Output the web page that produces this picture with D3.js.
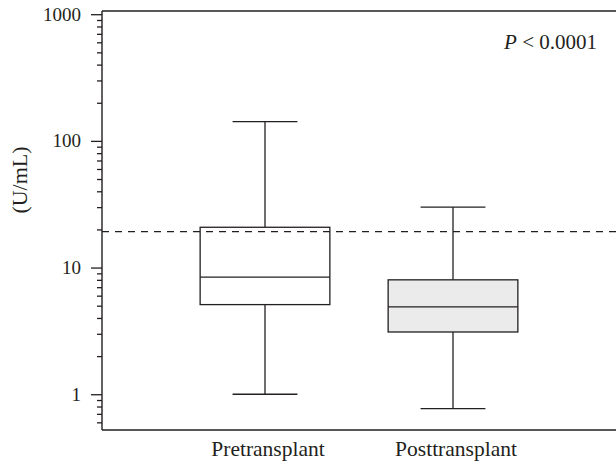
<!DOCTYPE html>
<html>
<head>
<meta charset="utf-8">
<script src="https://cdn.jsdelivr.net/npm/d3@7"></script>
<style>
  html, body { margin: 0; padding: 0; background: #fff; }
  svg { display: block; }
</style>
</head>
<body>
<svg id="chart" width="616" height="463"></svg>
<script>
// ---- data ----
const categories = ["Pretransplant", "Posttransplant"];
const whiskerLow  = [1.0, 0.77];
const q1          = [5.1, 3.1];
const median      = [8.4, 4.9];
const q3          = [20.8, 8.0];
const whiskerHigh = [142, 30];
const cutoff = 19.2;
const majorTicks = [1, 10, 100, 1000];
const boxFills = ["#ffffff", "#ebebeb"];
const yLabel = "(U/mL)";
const pLabel = "0.0001";

(function () {
// ---- layout ----
const mLeft = 102, mRight = 616, mTop = 11, mBottom = 430;
const ink = "#231f20";
const serif = "'Liberation Serif', 'DejaVu Serif', serif";

const svg = d3.select("#chart");

const y = d3.scaleLog().domain([0.522, 1060]).range([mBottom, mTop]);
const x = d3.scalePoint().domain(categories).range([mLeft, mRight]).padding(0.867);
const step = x.step();
const boxW = step * 0.69;
const capW = boxW * 0.5;

// minor ticks 2..9 per decade
const minorTicks = [];
for (let e = -1; e <= 2; e++) {
  for (let m = 2; m <= 9; m++) {
    const v = m * Math.pow(10, e);
    if (v >= y.domain()[0] && v <= y.domain()[1]) minorTicks.push(v);
  }
}

// frame lines (top and bottom)
svg.append("line").attr("x1", mLeft).attr("x2", mRight).attr("y1", mTop).attr("y2", mTop)
  .attr("stroke", ink).attr("stroke-width", 1.4);
svg.append("line").attr("x1", mLeft).attr("x2", mRight).attr("y1", mBottom).attr("y2", mBottom)
  .attr("stroke", ink).attr("stroke-width", 1.4);

// minor axis
const minorAxis = svg.append("g").attr("transform", `translate(${mLeft},0)`)
  .call(d3.axisLeft(y).tickValues(minorTicks).tickSize(5).tickFormat(""));
minorAxis.select(".domain").remove();

// major axis
const majorAxis = svg.append("g").attr("transform", `translate(${mLeft},0)`)
  .call(d3.axisLeft(y).tickValues(majorTicks).tickSize(11).tickPadding(10)
    .tickFormat(d3.format("d")));
majorAxis.attr("font-family", serif).attr("font-size", 19);
majorAxis.select(".domain").remove();
majorAxis.selectAll("text").attr("font-family", serif).attr("font-size", 19).attr("fill", ink);
svg.selectAll(".tick line").attr("stroke", ink).attr("stroke-width", 1.3);

// left axis line
svg.append("line").attr("x1", mLeft).attr("x2", mLeft).attr("y1", mTop).attr("y2", mBottom)
  .attr("stroke", ink).attr("stroke-width", 1.4);

// y label
svg.append("text")
  .attr("transform", `translate(27,180) rotate(-90)`)
  .attr("text-anchor", "middle")
  .attr("font-family", serif)
  .attr("font-size", 22)
  .attr("fill", ink)
  .text(yLabel);

// boxes
categories.forEach((c, i) => {
  const cx = x(c);
  const g = svg.append("g");
  g.append("line").attr("x1", cx).attr("x2", cx).attr("y1", y(whiskerHigh[i])).attr("y2", y(q3[i]))
    .attr("stroke", ink).attr("stroke-width", 1.3);
  g.append("line").attr("x1", cx).attr("x2", cx).attr("y1", y(q1[i])).attr("y2", y(whiskerLow[i]))
    .attr("stroke", ink).attr("stroke-width", 1.3);
  [whiskerHigh[i], whiskerLow[i]].forEach(v => {
    g.append("line").attr("x1", cx - capW / 2).attr("x2", cx + capW / 2).attr("y1", y(v)).attr("y2", y(v))
      .attr("stroke", ink).attr("stroke-width", 1.3);
  });
  g.append("rect").attr("x", cx - boxW / 2).attr("width", boxW)
    .attr("y", y(q3[i])).attr("height", y(q1[i]) - y(q3[i]))
    .attr("fill", boxFills[i]).attr("stroke", ink).attr("stroke-width", 1.3);
  g.append("line").attr("x1", cx - boxW / 2).attr("x2", cx + boxW / 2).attr("y1", y(median[i])).attr("y2", y(median[i]))
    .attr("stroke", ink).attr("stroke-width", 1.3);
});

// cutoff dashed line
svg.append("line").attr("x1", mLeft).attr("x2", mRight).attr("y1", y(cutoff)).attr("y2", y(cutoff))
  .attr("stroke", ink).attr("stroke-width", 1.2).attr("stroke-dasharray", "7,6");

// category labels
svg.append("g").selectAll("text").data(categories).join("text")
  .attr("x", d => x(d) + 3).attr("y", 456)
  .attr("text-anchor", "middle")
  .attr("font-family", serif).attr("font-size", 21.5).attr("fill", ink)
  .text(d => d);

// P value
const pt = svg.append("text").attr("x", 597).attr("y", 48.5).attr("text-anchor", "end")
  .attr("font-family", serif).attr("font-size", 21).attr("fill", ink);
pt.append("tspan").attr("font-style", "italic").text("P");
pt.append("tspan").text(" < " + pLabel);
})();
</script>
</body>
</html>
